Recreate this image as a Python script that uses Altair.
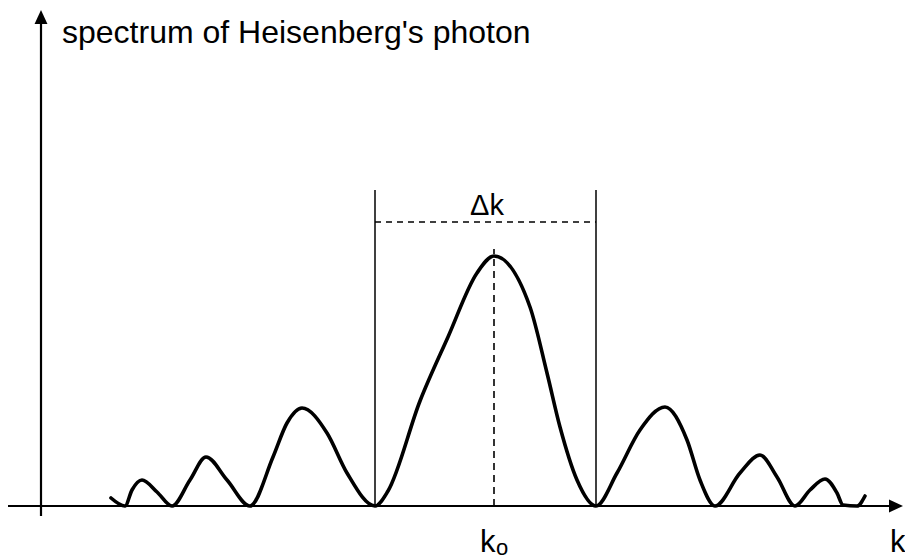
import altair as alt
import pandas as pd

# Sketch coordinates: k runs along the horizontal axis, s is the spectral
# amplitude measured upward from the k axis (same arbitrary units).
curve_k = [111, 125, 132, 142, 157, 172, 190, 206, 227, 250, 273, 287, 302, 327,
           347, 375, 388, 420, 448, 477, 494, 530, 547, 560, 577, 596, 617, 640,
           665, 687, 700, 715, 740, 760, 777, 795, 810, 825, 837, 843, 857, 865]
curve_s = [8, 0, 16, 26, 14, 0, 26, 49, 26, 0, 49, 83, 98, 73,
           33, 0, 15, 105, 169, 233, 250, 199, 133, 79, 26, 0, 33, 76,
           99, 66, 26, 0, 33, 51, 29, 0, 16, 27, 13, 1, 0, 10]

k0 = 494                  # centre of the main lobe
lobe_edges = [375, 596]   # first zeros either side of k0
edge_top = 316            # height of the solid markers at the lobe edges
dk_level = 284            # height of the dashed Δk bracket
k0_top = 257              # top of the dashed centre line

# Axis extents
k_axis = {"k_from": 8, "k_to": 892, "s": 0}
s_axis = {"k": 41, "s_from": -10, "s_to": 484}
k_arrow_tip = (903, 0)
s_arrow_tip = (41, 496)

x_scale = alt.Scale(domain=[0, 905], zero=False, nice=False)
y_scale = alt.Scale(domain=[-51, 506], zero=False, nice=False)


def X(field, **kw):
    return alt.X(field, type="quantitative", scale=x_scale, axis=None, **kw)


def Y(field, **kw):
    return alt.Y(field, type="quantitative", scale=y_scale, axis=None, **kw)


curve_df = pd.DataFrame({"k": curve_k, "s": curve_s})

curve = alt.Chart(curve_df).mark_line(
    color="black", strokeWidth=3.6, interpolate="monotone", strokeCap="round"
).encode(x=X("k"), y=Y("s"), order=alt.Order("k:Q"))

axes_df = pd.DataFrame({
    "k1": [k_axis["k_from"], s_axis["k"]],
    "k2": [k_axis["k_to"], s_axis["k"]],
    "s1": [k_axis["s"], s_axis["s_from"]],
    "s2": [k_axis["s"], s_axis["s_to"]],
})
axes = alt.Chart(axes_df).mark_rule(color="black", strokeWidth=2.2).encode(
    x=X("k1"), x2="k2", y=Y("s1"), y2="s2"
)

k_arrow = alt.Chart(pd.DataFrame({"k": [k_arrow_tip[0]], "s": [k_arrow_tip[1]]})).mark_point(
    shape="M0,0L-1,-0.46L-1,0.46Z", size=784, filled=True, color="black",
    opacity=1, strokeWidth=0
).encode(x=X("k"), y=Y("s"))

s_arrow = alt.Chart(pd.DataFrame({"k": [s_arrow_tip[0]], "s": [s_arrow_tip[1]]})).mark_point(
    shape="M0,0L-0.46,1L0.46,1Z", size=784, filled=True, color="black",
    opacity=1, strokeWidth=0
).encode(x=X("k"), y=Y("s"))

edges_df = pd.DataFrame({"k": lobe_edges, "s1": [0, 0], "s2": [edge_top, edge_top]})
edges = alt.Chart(edges_df).mark_rule(color="black", strokeWidth=1.5).encode(
    x=X("k"), y=Y("s1"), y2="s2"
)

bracket_df = pd.DataFrame({"k1": [lobe_edges[0]], "k2": [lobe_edges[1]], "s": [dk_level]})
bracket = alt.Chart(bracket_df).mark_rule(
    color="black", strokeWidth=1.6, strokeDash=[6, 5]
).encode(x=X("k1"), x2="k2", y=Y("s"))

centre_df = pd.DataFrame({"k": [k0], "s1": [0], "s2": [k0_top]})
centre = alt.Chart(centre_df).mark_rule(
    color="black", strokeWidth=1.6, strokeDash=[7, 5]
).encode(x=X("k"), y=Y("s1"), y2="s2")

FONT = "Liberation Sans"

labels_df = pd.DataFrame({
    "k": [62, 487, 480, 890],
    "s": [463, 291, -46, -46],
    "text": ["spectrum of Heisenberg's photon", "\u0394k", "k", "k"],
    "align": ["left", "center", "left", "left"],
    "size": [32, 29, 31, 31],
})


def label(i):
    row = labels_df.iloc[[i]]
    return alt.Chart(row).mark_text(
        font=FONT, fontSize=int(row["size"].iloc[0]), align=row["align"].iloc[0],
        baseline="alphabetic", color="black"
    ).encode(x=X("k"), y=Y("s"), text="text:N")


sub_df = pd.DataFrame({"k": [496], "s": [-49], "text": ["o"]})
subscript = alt.Chart(sub_df).mark_text(
    font=FONT, fontSize=22, align="left", baseline="alphabetic", color="black"
).encode(x=X("k"), y=Y("s"), text="text:N")

chart = alt.layer(
    axes, k_arrow, s_arrow, edges, bracket, centre, curve,
    label(0), label(1), label(2), label(3), subscript
).properties(
    width=905, height=557, padding=0,
    autosize=alt.AutoSizeParams(type="none"),
    background="white",
).configure_view(stroke=None)

chart.save("out.html", embed_options={"renderer": "svg", "actions": False})
